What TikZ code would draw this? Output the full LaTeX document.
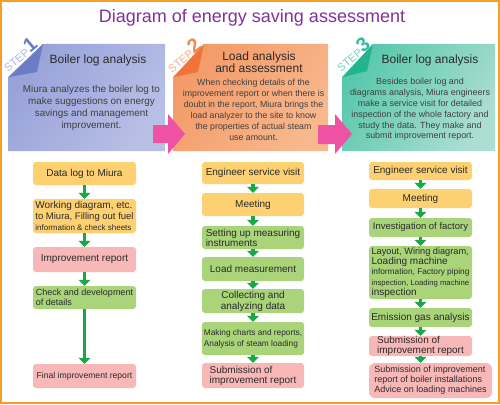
\documentclass[tikz,border=0pt]{standalone}
\usepackage{fontspec}
\setmainfont{Liberation Sans}
\usetikzlibrary{arrows.meta}
\definecolor{cBorder}{HTML}{F5A023}
\definecolor{cTitle}{HTML}{82309C}
\definecolor{cOr}{HTML}{FDD072}
\definecolor{cPink}{HTML}{F8B8B8}
\definecolor{cGreen}{HTML}{A9D47A}
\definecolor{cArr}{HTML}{18A848}
\definecolor{cPArr}{HTML}{EE52A2}
\definecolor{cTxt}{HTML}{2A2A2A}
\definecolor{cBody}{HTML}{404040}
\definecolor{sAa}{HTML}{98A2D8}\definecolor{sAb}{HTML}{E2E6F5}\definecolor{sAc}{HTML}{B8C0E6}
\definecolor{sBa}{HTML}{F49A68}\definecolor{sBb}{HTML}{FDE8D8}\definecolor{sBc}{HTML}{F7B88E}
\definecolor{sCa}{HTML}{58C8AC}\definecolor{sCb}{HTML}{DAF3EC}\definecolor{sCc}{HTML}{ACDED2}
\definecolor{fA}{HTML}{6C7CC6}\definecolor{fB}{HTML}{F0743A}\definecolor{fC}{HTML}{22B48C}
\definecolor{tA}{HTML}{AAB6E6}\definecolor{dA}{HTML}{6A7ACA}
\definecolor{tB}{HTML}{F8B088}\definecolor{dB}{HTML}{F28A4C}
\definecolor{tC}{HTML}{72D6C0}\definecolor{dC}{HTML}{2CC0A0}
\tikzset{
  box/.style={rounded corners=3pt, inner ysep=0pt, inner xsep=2pt, text=cTxt,
    font=\fontsize{10}{11}\selectfont},
  obox/.style={box, fill=cOr},
  pbox/.style={box, fill=cPink},
  gbox/.style={box, fill=cGreen},
  garrow/.style={draw=cArr, line width=3.5pt, -{Triangle[width=12pt,length=6pt]}},
  heading/.style={text=cTxt, font=\fontsize{12}{10.5}\selectfont, align=center},
  body/.style={text=cBody, align=center},
  steplabel/.style={rotate=40, inner sep=0pt},
  panelshade/.style={shading angle=56},
}
\newcommand{\steplab}[3]{{\fontsize{11}{11}\selectfont\color{#1}STEP}{\fontsize{20}{20}\selectfont\bfseries\color{#2}#3}}
\begin{document}
\begin{tikzpicture}[x=1pt,y=-1pt]
\useasboundingbox (0,0) rectangle (500,404);
\fill[white] (0,0) rectangle (500,404);
\draw[cBorder, line width=2pt] (1,1) rectangle (499,403);

\node[text=cTitle, font=\fontsize{18}{18}\selectfont] (title) at (252,18) {Diagram of energy saving assessment};

% panels
\shade[left color=sAa, middle color=sAb, right color=sAc, panelshade]
  (43,44) -- (165,44) -- (165,151) -- (8,151) -- (8,77) -- cycle;
\fill[fA] (43,44) -- (9,77) -- (37,72) -- cycle;
\shade[left color=sBa, middle color=sBb, right color=sBc, panelshade]
  (204,44) -- (328,44) -- (328,151) -- (173,151) -- (173,77) -- cycle;
\fill[fB] (204,44) -- (174,77) -- (198,72) -- cycle;
\shade[left color=sCa, middle color=sCb, right color=sCc, panelshade]
  (373,44) -- (495,44) -- (495,151) -- (342,151) -- (342,77) -- cycle;
\fill[fC] (373,44) -- (343,77) -- (367,71) -- cycle;

% step labels
\node[steplabel] (s1) at (19,54) {\steplab{tA}{dA}{1}};
\node[steplabel] (s2) at (183,55) {\steplab{tB}{dB}{2}};
\node[steplabel] (s3) at (352,54) {\steplab{tC}{dC}{3}};

% headings
\node[heading] (h1) at (98,60) {Boiler log analysis};
\node[heading] (h2) at (259,62) {Load analysis\\and assessment};
\node[heading] (h3) at (430,60) {Boiler log analysis};

% body texts
\node[body, font=\fontsize{9.9}{12}\selectfont] (b1) at (91.5,108)
  {Miura analyzes the boiler log to\\make suggestions on energy\\savings and management\\improvement.};
\node[body, font=\fontsize{8.8}{11}\selectfont] (b2) at (253.5,110)
  {When checking details of the\\improvement report or when there is\\doubt in the report, Miura brings the\\load analyzer to the site to know\\the properties of actual steam\\use amount.};
\node[body, font=\fontsize{8.9}{10.8}\selectfont] (b3) at (420,109.5)
  {Besides boiler log and\\diagrams analysis, Miura engineers\\make a service visit for detailed\\inspection of the whole factory and\\study the data. They make and\\submit improvement report.};

% pink arrows
\fill[cPArr] (153,125) -- (168,125) -- (168,114) -- (185,134) -- (168,154) -- (168,143) -- (153,143) -- cycle;
\fill[cPArr] (318,125) -- (335,125) -- (335,114) -- (352,134) -- (335,154) -- (335,144) -- (318,144) -- cycle;

% column 1
\node[obox, align=center, minimum width=103pt, minimum height=23pt] (n11) at (84.5,173.5) {Data log to Miura};
\node[obox, align=left, minimum width=103pt, minimum height=34pt] (n12) at (84.5,216)
  {Working diagram, etc.\\{\fontsize{9.5}{11}\selectfont to Miura, Filling out fuel}\\{\fontsize{8}{11}\selectfont information \& check sheets}};
\node[pbox, align=center, minimum width=103pt, minimum height=25pt] (n13) at (84.5,259.5) {Improvement report};
\node[gbox, align=left, minimum width=103pt, minimum height=23pt, font=\fontsize{9}{10}\selectfont] (n14) at (84.5,297.5)
  {Check and development\\of details};
\node[pbox, align=center, minimum width=103pt, minimum height=24pt, font=\fontsize{8.6}{10}\selectfont] (n15) at (84.5,376) {Final improvement report};
\draw[garrow] (n11.south) -- (n12.north);
\draw[garrow] (n12.south) -- (n13.north);
\draw[garrow] (n13.south) -- (n14.north);
\draw[garrow] (n14.south) -- (n15.north);

% column 2
\node[obox, align=center, minimum width=102pt, minimum height=22pt] (n21) at (253,173) {Engineer service visit};
\node[obox, align=center, minimum width=102pt, minimum height=23pt] (n22) at (253,204.5) {Meeting};
\node[gbox, align=left, minimum width=102pt, minimum height=23pt, font=\fontsize{10}{10}\selectfont] (n23) at (253,237.5)
  {Setting up measuring\\instruments};
\node[gbox, align=center, minimum width=102pt, minimum height=24pt] (n24) at (253,269) {Load measurement};
\node[gbox, align=center, minimum width=102pt, minimum height=24pt] (n25) at (253,301) {Collecting and\\analyzing data};
\node[gbox, align=left, minimum width=102pt, minimum height=33pt, font=\fontsize{8.3}{11}\selectfont] (n26) at (253,338.5)
  {Making charts and reports,\\Analysis of steam loading};
\node[pbox, align=left, minimum width=102pt, minimum height=25pt, font=\fontsize{10}{10}\selectfont] (n27) at (253,375.5)
  {Submission of\\improvement report};
\draw[garrow] (n21.south) -- (n22.north);
\draw[garrow] (n22.south) -- (n23.north);
\draw[garrow] (n23.south) -- (n24.north);
\draw[garrow] (n24.south) -- (n25.north);
\draw[garrow] (n25.south) -- (n26.north);
\draw[garrow] (n26.south) -- (n27.north);

% column 3
\node[obox, align=center, minimum width=103pt, minimum height=18pt] (n31) at (420.5,171) {Engineer service visit};
\node[obox, align=center, minimum width=103pt, minimum height=19pt] (n32) at (420.5,198.5) {Meeting};
\node[gbox, align=center, minimum width=103pt, minimum height=19pt, font=\fontsize{9.5}{11}\selectfont] (n33) at (420.5,227.5) {Investigation of factory};
\node[gbox, align=left, minimum width=103pt, minimum height=53pt, font=\fontsize{10}{10.3}\selectfont] (n34) at (420.5,272.5)
  {{\fontsize{9.2}{10.3}\selectfont Layout, Wiring diagram,}\\Loading machine\\{\fontsize{8.3}{10.3}\selectfont information, Factory piping}\\{\fontsize{7.7}{10.3}\selectfont inspection, Loading machine}\\inspection};
\node[gbox, align=center, minimum width=103pt, minimum height=19pt] (n35) at (420.5,317.5) {Emission gas analysis};
\node[pbox, align=left, minimum width=103pt, minimum height=20pt, font=\fontsize{10}{10}\selectfont] (n36) at (420.5,346)
  {Submission of\\improvement report};
\node[pbox, rounded corners=6pt, align=left, minimum width=123pt, minimum height=35pt, font=\fontsize{9}{10}\selectfont] (n37) at (430.5,380.5)
  {Submission of improvement\\report of boiler installations\\Advice on loading machines};
\draw[garrow] (n31.south) -- (n32.north);
\draw[garrow] (n32.south) -- (n33.north);
\draw[garrow] (n33.south) -- (n34.north);
\draw[garrow] (n34.south) -- (n35.north);
\draw[garrow] (n35.south) -- (n36.north);
\draw[garrow] (n36.south) -- (n36.south |- n37.north);
\end{tikzpicture}
\end{document}
